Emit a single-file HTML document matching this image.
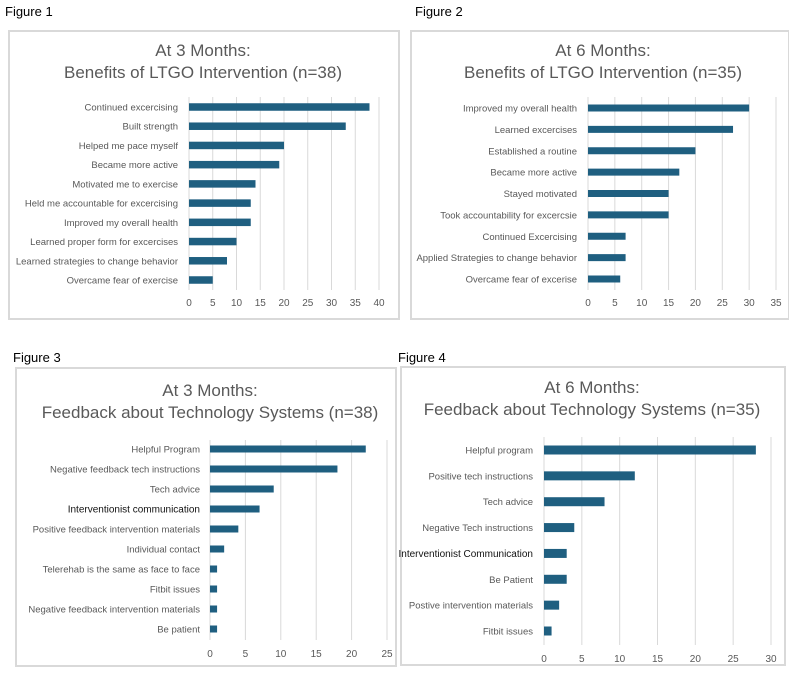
<!DOCTYPE html>
<html><head><meta charset="utf-8">
<style>
body{margin:0;width:789px;height:674px;background:#fff;font-family:"Liberation Sans",sans-serif;overflow:hidden;position:relative}
.fig{position:absolute;font-size:13px;color:#000}
.box{position:absolute;border:2px solid #d9d9d9;box-sizing:border-box}
svg{position:absolute;left:0;top:0}
</style></head><body>
<div class="fig" style="left:5px;top:4px">Figure 1</div>
<div class="fig" style="left:415px;top:4px">Figure 2</div>
<div class="fig" style="left:13px;top:350px">Figure 3</div>
<div class="fig" style="left:398px;top:350px">Figure 4</div>
<div class="box" style="left:8px;top:30px;width:392px;height:290px"></div>
<div class="box" style="left:410px;top:30px;width:380px;height:290px"></div>
<div class="box" style="left:15px;top:367px;width:382px;height:300px"></div>
<div class="box" style="left:400px;top:366px;width:386px;height:300px"></div>
<svg id="s" width="789" height="674"></svg>
<script>
const cats1=["Continued excercising","Built strength","Helped me pace myself","Became more active","Motivated me to exercise","Held me accountable for excercising","Improved my overall health","Learned proper form for excercises","Learned strategies to change behavior","Overcame fear of exercise"];
const vals1=[38,33,20,19,14,13,13,10,8,5];
const ticks1=[0,5,10,15,20,25,30,35,40];
const cats2=["Improved my overall health","Learned excercises","Established a routine","Became more active","Stayed motivated","Took accountability for excercsie","Continued Excercising","Applied Strategies to change behavior","Overcame fear of excerise"];
const vals2=[30,27,20,17,15,15,7,7,6];
const ticks2=[0,5,10,15,20,25,30,35];
const cats3=["Helpful Program","Negative feedback tech instructions","Tech advice","Interventionist communication","Positive feedback intervention materials","Individual contact","Telerehab is the same as face to face","Fitbit issues","Negative feedback intervention materials","Be patient"];
const vals3=[22,18,9,7,4,2,1,1,1,1];
const ticks3=[0,5,10,15,20,25];
const cats4=["Helpful program","Positive tech instructions","Tech advice","Negative Tech instructions","Interventionist Communication","Be Patient","Postive intervention materials","Fitbit issues"];
const vals4=[28,12,8,4,3,3,2,1];
const ticks4=[0,5,10,15,20,25,30];
const titles=[["At 3 Months:","Benefits of LTGO Intervention (n=38)"],["At 6 Months:","Benefits of LTGO Intervention (n=35)"],["At 3 Months:","Feedback about Technology Systems (n=38)"],["At 6 Months:","Feedback about Technology Systems (n=35)"]];
const NS="http://www.w3.org/2000/svg";
const svg=document.getElementById('s');
function mk(tag,a,t){const e=document.createElementNS(NS,tag);for(const k in a)e.setAttribute(k,a[k]);if(t!==undefined)e.textContent=t;svg.appendChild(e);return e;}
function chart(n,cats,vals,ticks,c){
  const max=ticks[ticks.length-1];
  const x=v=>c.x0+(v/max)*(c.x1-c.x0);
  const step=(c.yl-c.yf)/(cats.length-1);
  const y=i=>c.yf+i*step;
  let e=mk('text',{x:c.tx,y:c.ty1,'text-anchor':'middle','font-size':17,fill:'#595959'},titles[n-1][0]);
  
  
  e=mk('text',{x:c.tx,y:c.ty2,'text-anchor':'middle','font-size':17,fill:'#595959'},titles[n-1][1]);
  
  
  ticks.forEach(t=>{
    const g=mk('line',{x1:x(t),x2:x(t),y1:c.gt,y2:c.gb,stroke:'#d9d9d9','stroke-width':1});
    
    
    const l=mk('text',{x:x(t),y:c.tk,'text-anchor':'middle','font-size':10,fill:'#595959'},t);
    
    
  });
  cats.forEach((cat,i)=>{
    const b=/^Interventionist/.test(cat);
    const l=mk('text',{x:c.lr,y:y(i)+3.5,'text-anchor':'end','font-size':b?10:9.5,fill:b?'#111':'#595959'},cat);
    
    
    const r=mk('rect',{x:x(0),y:y(i)-c.bh/2,width:x(vals[i])-x(0),height:c.bh,fill:'#1f5f80'});
    
    
  });
}
chart(1,cats1,vals1,ticks1,{x0:189,x1:379,yf:107,yl:280,bh:7.5,tx:203,ty1:56,ty2:78,gt:97,gb:290,tk:306,lr:178});
chart(2,cats2,vals2,ticks2,{x0:588,x1:776,yf:108,yl:279,bh:7,tx:603,ty1:56,ty2:78,gt:97,gb:290,tk:306,lr:577});
chart(3,cats3,vals3,ticks3,{x0:210,x1:387,yf:449,yl:629,bh:7,tx:210,ty1:396,ty2:418,gt:440,gb:640,tk:657,lr:200});
chart(4,cats4,vals4,ticks4,{x0:544,x1:771,yf:450,yl:631,bh:9,tx:592,ty1:393,ty2:415,gt:437,gb:645,tk:662,lr:533});
</script>
</body></html>
